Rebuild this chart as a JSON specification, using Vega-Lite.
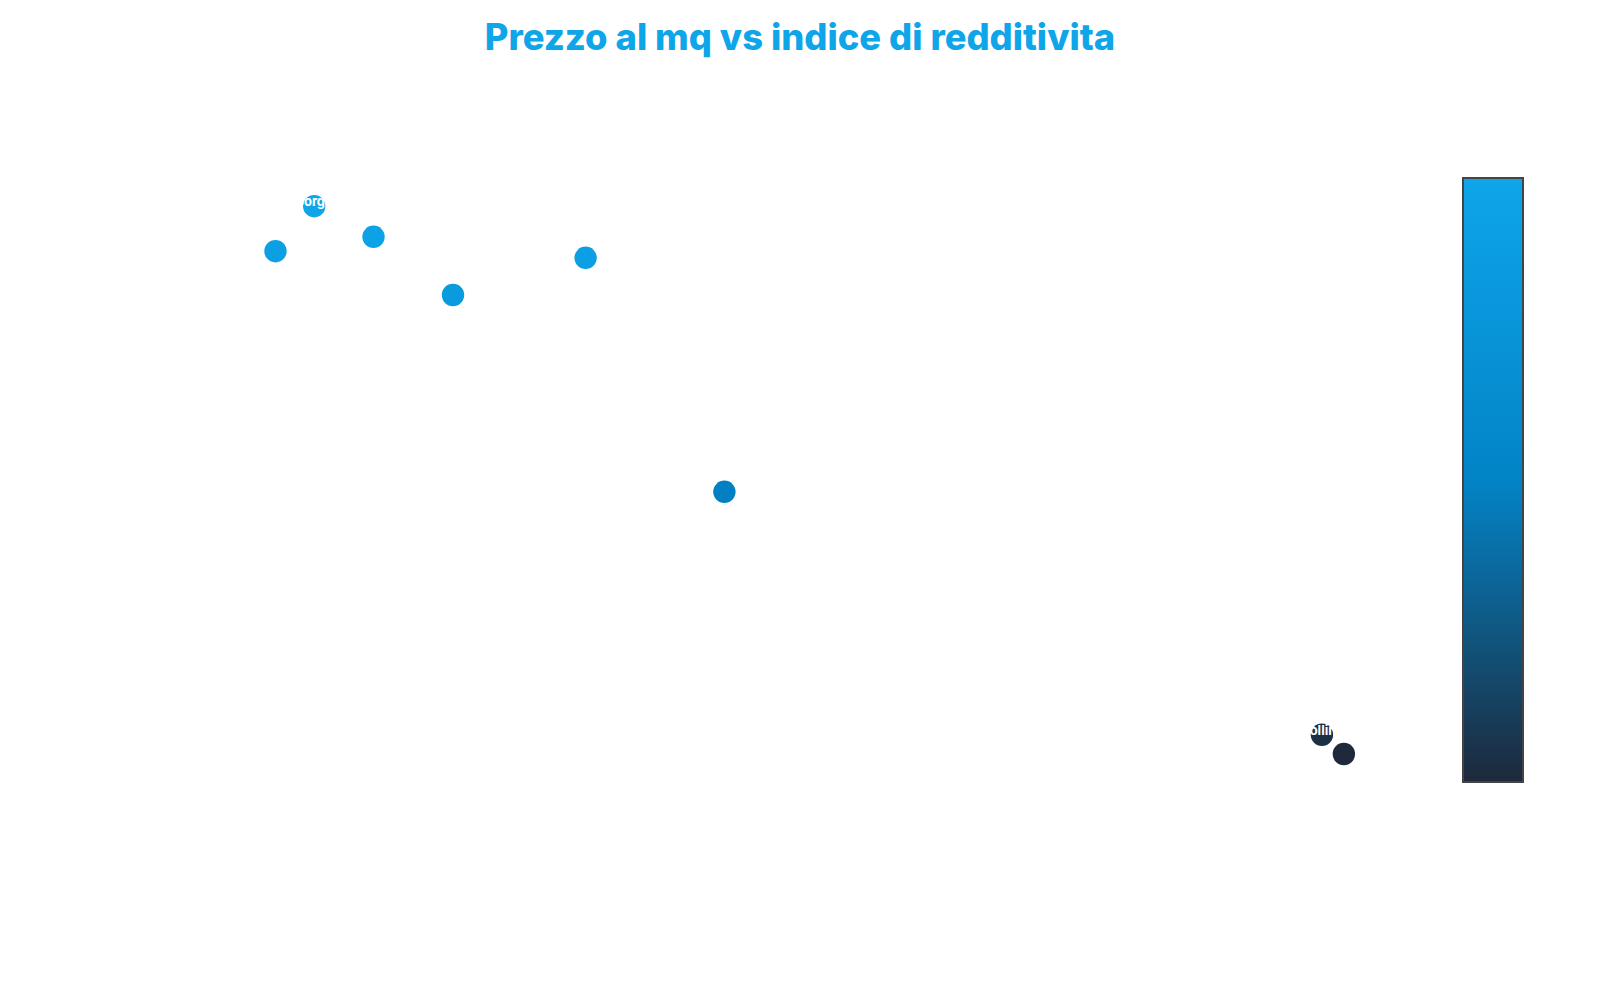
{
  "$schema": "https://vega.github.io/schema/vega-lite/v6.json",
  "autosize": "none",
  "width": 1290,
  "height": 600,
  "padding": {"left": 155, "top": 178, "right": 155, "bottom": 222},
  "background": "#ffffff",
  "config": {
    "view": {"stroke": null},
    "font": "Inter"
  },
  "title": {
    "text": "Prezzo al mq vs indice di redditivita",
    "font": "Inter",
    "fontSize": 36.3,
    "fontWeight": 800,
    "color": "#0ea5e9",
    "anchor": "middle",
    "offset": 121
  },
  "data": {
    "values": [
      {"zona": "Centro storico", "prezzo_mq": 967, "indice": 8.78, "label": ""},
      {"zona": "Borgo", "prezzo_mq": 1117, "indice": 9.53, "label": "Borgo"},
      {"zona": "Stazione", "prezzo_mq": 1347, "indice": 9.02, "label": ""},
      {"zona": "Porto", "prezzo_mq": 1655, "indice": 8.05, "label": ""},
      {"zona": "Universita", "prezzo_mq": 2169, "indice": 8.67, "label": ""},
      {"zona": "Fiera", "prezzo_mq": 2707, "indice": 4.77, "label": ""},
      {"zona": "Collina", "prezzo_mq": 5023, "indice": 0.72, "label": "Collina"},
      {"zona": "Lungomare", "prezzo_mq": 5108, "indice": 0.40, "label": ""}
    ]
  },
  "encoding": {
    "x": {
      "field": "prezzo_mq",
      "type": "quantitative",
      "scale": {"domain": [500, 5500], "nice": false},
      "axis": {"domain": false, "ticks": false, "labels": false, "grid": false, "title": null}
    },
    "y": {
      "field": "indice",
      "type": "quantitative",
      "scale": {"domain": [0, 10], "nice": false},
      "axis": {"domain": false, "ticks": false, "labels": false, "grid": false, "title": null}
    }
  },
  "layer": [
    {
      "mark": {"type": "circle", "size": 500, "opacity": 1},
      "encoding": {
        "color": {
          "field": "indice",
          "type": "quantitative",
          "scale": {"range": ["#1e293b", "#0284c7", "#0ea5e9"], "interpolate": "rgb"},
          "legend": {
            "title": null,
            "gradientLength": 604,
            "gradientThickness": 60,
            "gradientStrokeColor": "#444444",
            "gradientStrokeWidth": 2,
            "labelColor": "#ffffff",
            "labelOpacity": 0,
            "offset": 18,
            "padding": 0
          }
        },
        "tooltip": [
          {"field": "zona", "type": "nominal", "title": "Zona"},
          {"field": "prezzo_mq", "type": "quantitative", "title": "Prezzo al mq"},
          {"field": "indice", "type": "quantitative", "title": "Indice di redditivita"}
        ]
      }
    },
    {
      "mark": {"type": "text", "color": "#ffffff", "fontSize": 13, "fontWeight": "bold", "baseline": "middle", "dy": -4},
      "encoding": {
        "text": {"field": "label", "type": "nominal"}
      }
    }
  ]
}
